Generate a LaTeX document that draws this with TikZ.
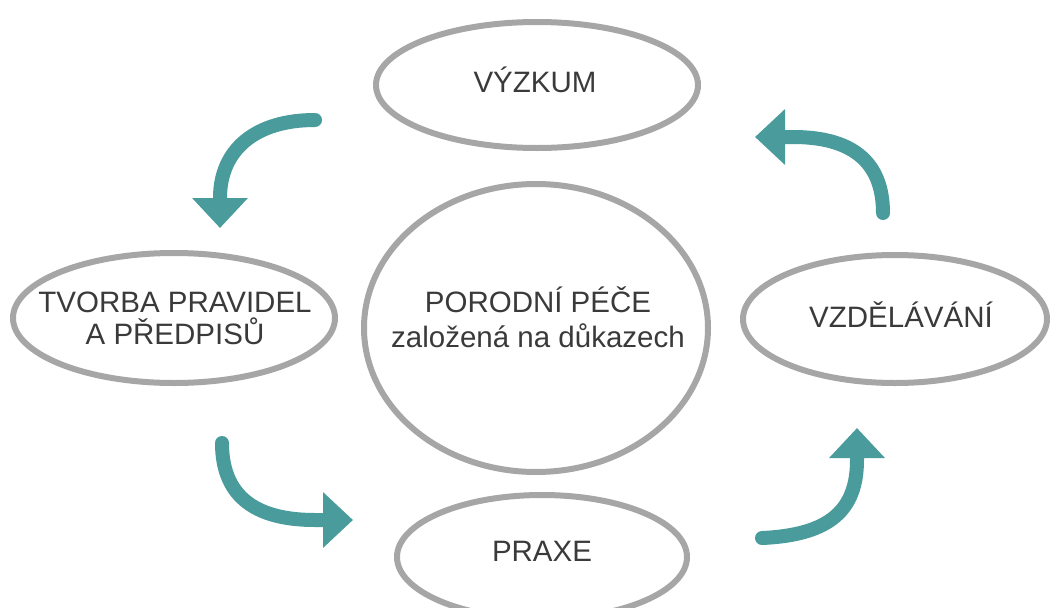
\documentclass[tikz,border=0pt]{standalone}
\usepackage{fontspec}
\setmainfont{Liberation Sans}
\usetikzlibrary{arrows.meta,shapes.geometric}
\definecolor{ring}{HTML}{A6A6A6}
\definecolor{arrowteal}{HTML}{4A9B9B}
\definecolor{ink}{HTML}{3A3A3A}

\begin{document}
\begin{tikzpicture}[x=1pt,y=-1pt,
    oval/.style={ellipse,draw=ring,line width=6pt,inner sep=0pt},
    word/.style={anchor=base,align=center,text=ink,font=\fontsize{29.5}{32}\selectfont},
    turn/.style={draw=arrowteal,line width=14pt,line cap=round,-{Triangle[length=30pt,width=54pt]}}]

	\clip (0,0) rectangle (1050,608);

	\node[oval,minimum width=344pt,minimum height=288pt] (pece) at (536,328) {};
	\node[oval,minimum width=322pt,minimum height=126pt] (vyzkum) at (537,85) {};
	\node[oval,minimum width=322pt,minimum height=130pt] (tvorba) at (174,318) {};
	\node[oval,minimum width=304pt,minimum height=128pt] (vzdel) at (895,319) {};
	\node[oval,minimum width=290pt,minimum height=124pt] (praxe) at (542,557) {};

	\node[word,font=\fontsize{29.5}{35}\selectfont] (pece-t) at (538,347) {PORODNÍ PÉČE\\založená na důkazech};
	\node[word] (vyzkum-t) at (535,92) {VÝZKUM};
	\node[word] (tvorba-t) at (175,344) {TVORBA PRAVIDEL\\A PŘEDPISŮ};
	\node[word] (vzdel-t) at (901,327) {VZDĚLÁVÁNÍ};
	\node[word] (praxe-t) at (542,561) {PRAXE};

	\coordinate (s1) at (315,120); \coordinate (e1) at (220,228);
	\coordinate (s2) at (762,538); \coordinate (e2) at (857,428);
	\coordinate (s3) at (883,213); \coordinate (e3) at (755,137);
	\coordinate (s4) at (222,443); \coordinate (e4) at (353,520);

	\draw[turn] (s1) .. controls (255,120) and (220,150) .. (220,198) -- (e1);
	\draw[turn] (s4) .. controls (222,500) and (260,520) .. (315,520) -- (e4);
	\draw[turn] (s2) .. controls (830,535) and (857,510) .. (857,460) -- (e2);
	\draw[turn] (s3) .. controls (883,160) and (850,137) .. (793,137) -- (e3);
\end{tikzpicture}
\end{document}
